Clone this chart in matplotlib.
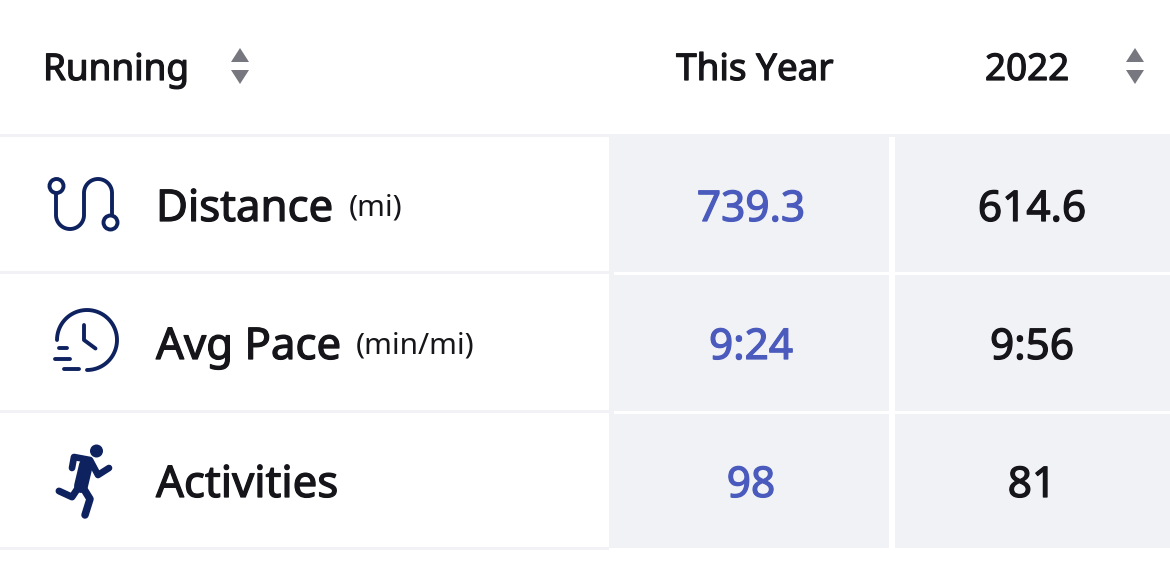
import numpy as np
import matplotlib.pyplot as plt
import matplotlib.patheffects as pe
from matplotlib.patches import Circle, Polygon, Rectangle

plt.rcParams['font.family'] = ['Noto Sans', 'DejaVu Sans']

# table contents
columns = ['Running', 'This Year', '2022']
metrics = ['Distance', 'Avg Pace', 'Activities']
units = ['(mi)', '(min/mi)', '']
this_year = ['739.3', '9:24', '98']
last_year = ['614.6', '9:56', '81']

navy = '#0f2260'
blue = '#4a5bbd'
black = '#15151a'
cell = '#f1f2f6'
rule = '#f2f2f6'
arrow = '#77777f'

fig = plt.figure(figsize=(11.7, 5.8), dpi=100)
ax = fig.add_axes([0, 0, 1, 1])
ax.set_xlim(0, 1170)
ax.set_ylim(580, 0)
ax.axis('off')

# backgrounds, all in pixels
ax.add_patch(Rectangle((608.5, 134), 561.5, 414, color=cell, lw=0))
for y in [134, 271, 410, 547]:
    ax.add_patch(Rectangle((0, y), 608.5, 3, color=rule, lw=0))
ax.add_patch(Rectangle((889, 137), 6, 411, color='white', lw=0))
for y in [272, 411]:
    ax.add_patch(Rectangle((614, y), 275, 3, color='white', lw=0))
    ax.add_patch(Rectangle((895, y), 275, 3, color='white', lw=0))


def sort_arrows(cx):
    ax.add_patch(Polygon([(cx - 9, 62), (cx + 9, 62), (cx, 48)], color=arrow, lw=0))
    ax.add_patch(Polygon([(cx - 9, 70), (cx + 9, 70), (cx, 84)], color=arrow, lw=0))


def heavy(x, y, s, size, color, ha='left'):
    # no medium weight installed, thicken the regular face with a thin stroke
    t = ax.text(x, y, s, fontsize=size, color=color, ha=ha, va='baseline')
    t.set_path_effects([pe.withStroke(linewidth=0.9, foreground=color)])


sort_arrows(240)
sort_arrows(1135)

# header
heavy(43, 80, columns[0], 26.5, black)
heavy(755, 80, columns[1], 26.5, black, ha='center')
heavy(1027, 80, columns[2], 26.5, black, ha='center')

# rows
baselines = [221, 359, 497]
unit_x = [349, 356, 0]
for i in range(len(metrics)):
    y = baselines[i]
    heavy(156, y, metrics[i], 31.5, black)
    if units[i]:
        ax.text(unit_x[i], y - 5, units[i], fontsize=21.5, color=black, ha='left', va='baseline')
    heavy(751, y, this_year[i], 30.5, blue, ha='center')
    heavy(1032, y, last_year[i], 30.5, black, ha='center')


def arc(cx, cy, r, a0, a1):
    t = np.radians(np.linspace(a0, a1, 60))
    return cx + r * np.cos(t), cy + r * np.sin(t)


lw = 2.8
style = dict(color=navy, lw=lw, solid_capstyle='round', solid_joinstyle='round')

# route icon
x1, y1 = arc(70, 215, 14, 180, 0)
x2, y2 = arc(98, 193, 14, 180, 360)
ax.plot(np.r_[56, x1, x2, 112], np.r_[193, y1, y2, 215], **style)
ax.add_patch(Circle((56.5, 186), 7, fc='white', ec=navy, lw=lw, zorder=3))
ax.add_patch(Circle((110.5, 222.5), 7, fc='white', ec=navy, lw=lw, zorder=3))

# clock icon
xa, ya = arc(87, 340, 30, 180, 450)
ax.plot(xa, ya, **style)
ax.plot([84, 84, 95.5], [325, 340, 348.5], **style)
ax.plot([59, 67], [347.5, 347.5], **style)
ax.plot([55, 70], [359, 359], **style)
ax.plot([64, 79], [369, 369], **style)

# runner icon
ax.add_patch(Circle((96.5, 451), 6.5, color=navy, lw=0))
limb = dict(color=navy, solid_capstyle='round', solid_joinstyle='round')
ax.plot([72, 74, 90, 98, 109], [468, 457, 460, 475, 468], lw=4.8, **limb)
ax.plot([86, 81], [465, 486], lw=10, **limb)
ax.plot([82, 90, 85], [486, 499, 515], lw=5.4, **limb)
ax.plot([80, 72, 59], [485, 497, 491], lw=5, **limb)

fig.savefig('out.png', dpi=100)
